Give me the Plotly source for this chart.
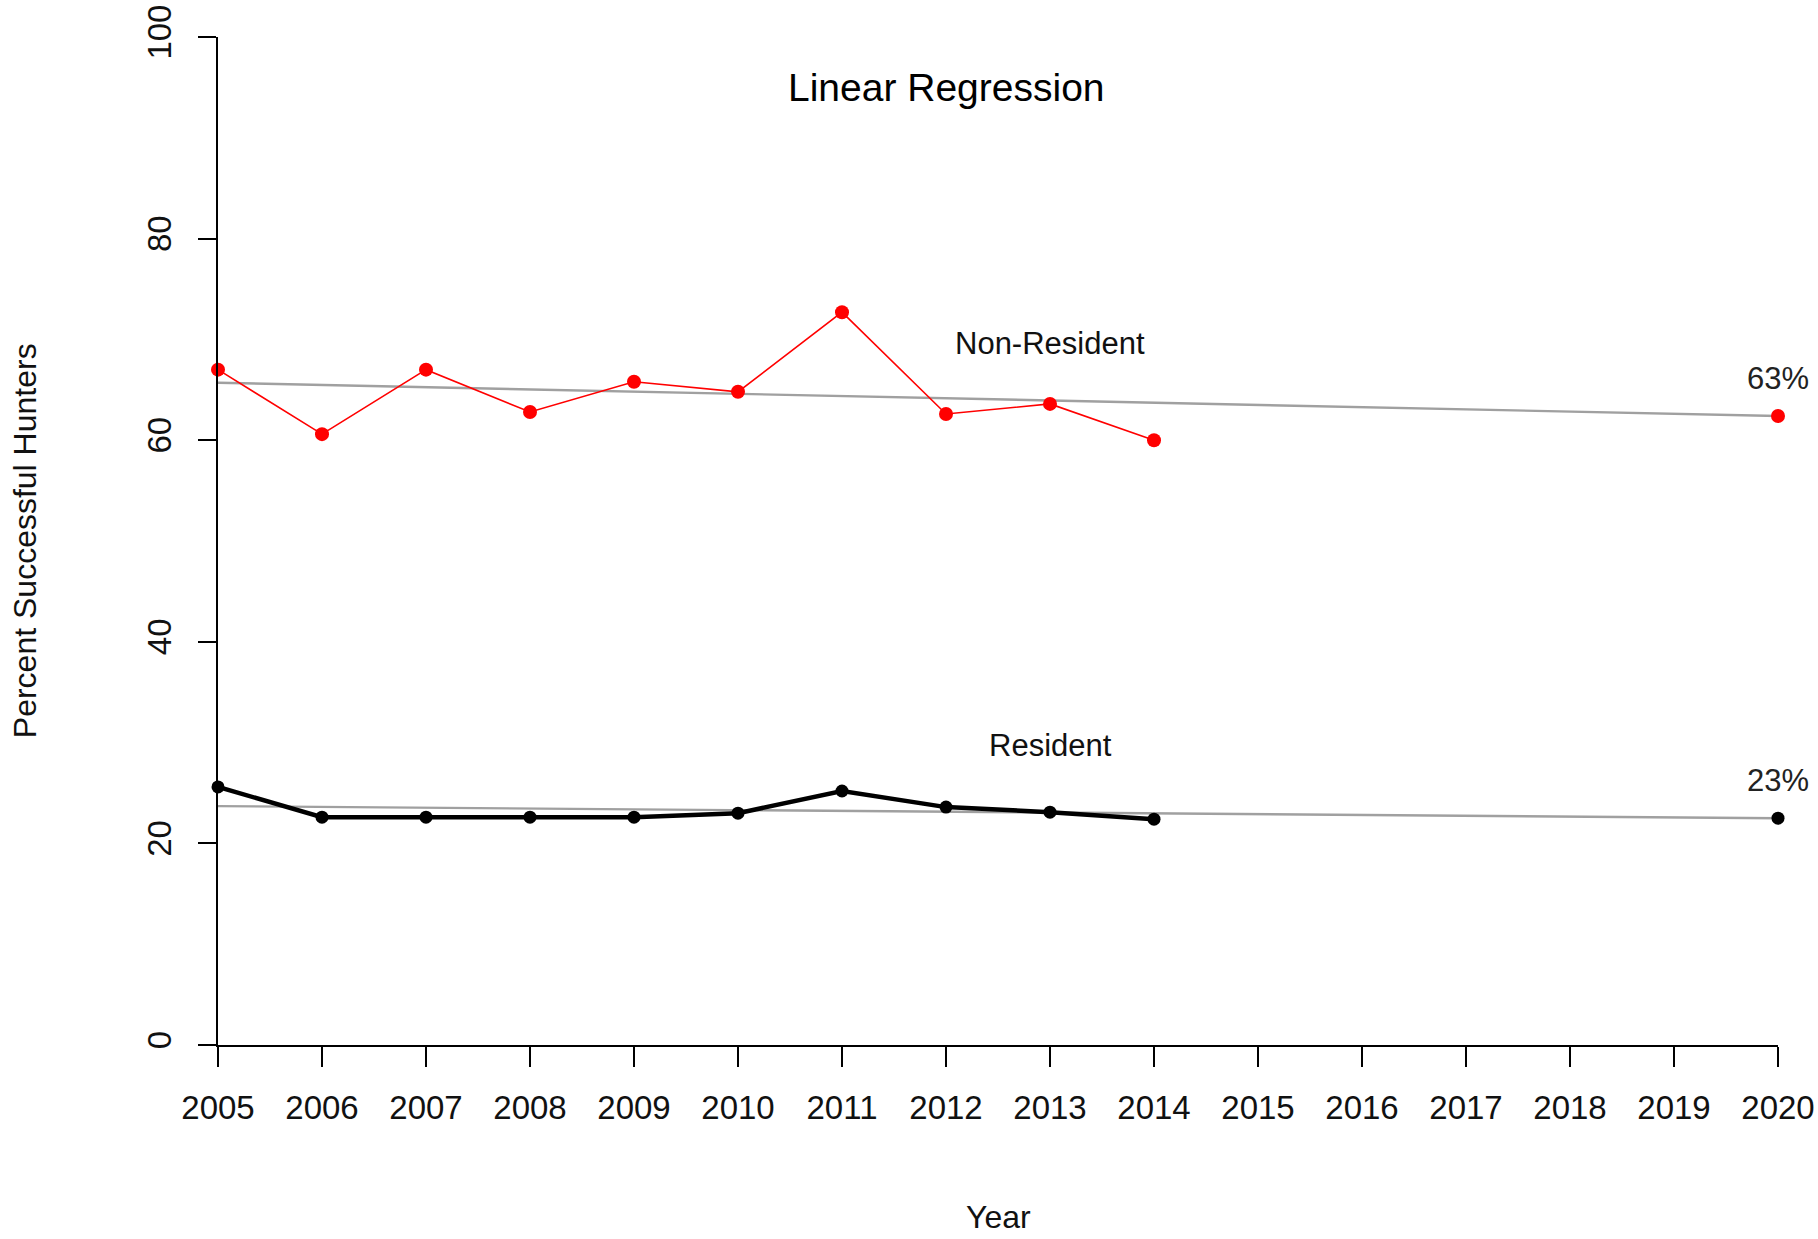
import plotly.graph_objects as go

years = [2005, 2006, 2007, 2008, 2009, 2010, 2011, 2012, 2013, 2014]
nonresident = [67.0, 60.6, 67.0, 62.8, 65.8, 64.8, 72.7, 62.6, 63.6, 60.0]
resident = [25.6, 22.6, 22.6, 22.6, 22.6, 23.0, 25.2, 23.6, 23.1, 22.4]

pred_year = [2020]
nonresident_pred = [62.4]
resident_pred = [22.5]
nonresident_pred_label = "63%"
resident_pred_label = "23%"

trend_years = [2005, 2020]
nonresident_trend = [65.7, 62.4]
resident_trend = [23.7, 22.5]

x_ticks = list(range(2005, 2021))
y_ticks = [0, 20, 40, 60, 80, 100]

FONT = "Liberation Sans, Arial, sans-serif"
FS = 31
TICK_FS = 33
TITLE_FS = 32

fig = go.Figure()
fig.add_trace(go.Scatter(x=trend_years, y=nonresident_trend, mode="lines",
                         line=dict(color="#a0a0a0", width=2.4), cliponaxis=False))
fig.add_trace(go.Scatter(x=trend_years, y=resident_trend, mode="lines",
                         line=dict(color="#a0a0a0", width=2.4), cliponaxis=False))
fig.add_trace(go.Scatter(x=years, y=nonresident, mode="lines+markers",
                         line=dict(color="#ff0000", width=1.6),
                         marker=dict(color="#ff0000", size=14), cliponaxis=False))
fig.add_trace(go.Scatter(x=years, y=resident, mode="lines+markers",
                         line=dict(color="#000000", width=4.5),
                         marker=dict(color="#000000", size=13), cliponaxis=False))
fig.add_trace(go.Scatter(x=pred_year, y=nonresident_pred, mode="markers",
                         marker=dict(color="#ff0000", size=14), cliponaxis=False))
fig.add_trace(go.Scatter(x=pred_year, y=resident_pred, mode="markers",
                         marker=dict(color="#000000", size=13), cliponaxis=False))

annotations = [
    dict(x=2012, y=95, xref="x", yref="y", text="Linear Regression", showarrow=False,
         font=dict(family=FONT, size=39, color="#000")),
    dict(x=2013, y=69.6, xref="x", yref="y", text="Non-Resident", showarrow=False,
         font=dict(family=FONT, size=FS, color="#111")),
    dict(x=2013, y=29.7, xref="x", yref="y", text="Resident", showarrow=False,
         font=dict(family=FONT, size=FS, color="#111")),
    dict(x=pred_year[0], y=nonresident_pred[0], xref="x", yref="y",
         text=nonresident_pred_label, showarrow=False, yshift=38,
         font=dict(family=FONT, size=FS, color="#222")),
    dict(x=pred_year[0], y=resident_pred[0], xref="x", yref="y",
         text=resident_pred_label, showarrow=False, yshift=38,
         font=dict(family=FONT, size=FS, color="#222")),
    dict(x=0.5, y=-0.171, xref="paper", yref="paper", text="Year", showarrow=False,
         yanchor="middle", font=dict(family=FONT, size=TITLE_FS, color="#111")),
    dict(x=-0.1236, y=0.5, xref="paper", yref="paper", text="Percent Successful Hunters",
         showarrow=False, textangle=-90, xanchor="center", yanchor="middle",
         font=dict(family=FONT, size=TITLE_FS, color="#111")),
]

fig.update_layout(
    width=1818, height=1239,
    margin=dict(l=218, r=40, t=37, b=194),
    paper_bgcolor="white", plot_bgcolor="white",
    showlegend=False,
    font=dict(family=FONT, size=FS, color="#111"),
    annotations=annotations,
    xaxis=dict(range=[2005, 2020], tickvals=x_ticks, ticktext=[str(v) for v in x_ticks],
               showgrid=False, zeroline=False, showline=True, linecolor="#000",
               linewidth=2, ticks="outside", ticklen=20, tickwidth=1.5, tickcolor="#000",
               ticklabeloverflow="allow", automargin=False,
               ticklabelstandoff=12, tickfont=dict(family=FONT, size=TICK_FS, color="#111")),
    yaxis=dict(range=[0, 100], tickvals=y_ticks, showgrid=False, zeroline=False,
               showline=True, linecolor="#000", linewidth=2, ticks="outside",
               ticklen=18, tickwidth=1.5, tickcolor="#000", tickangle=-90,
               ticklabeloverflow="allow", automargin=False,
               ticklabelstandoff=14, tickfont=dict(family=FONT, size=TICK_FS, color="#111")),
)

fig.write_html("out.html", config={"displayModeBar": False},
               post_script="document.body.style.margin='0';document.body.style.overflow='hidden';")
